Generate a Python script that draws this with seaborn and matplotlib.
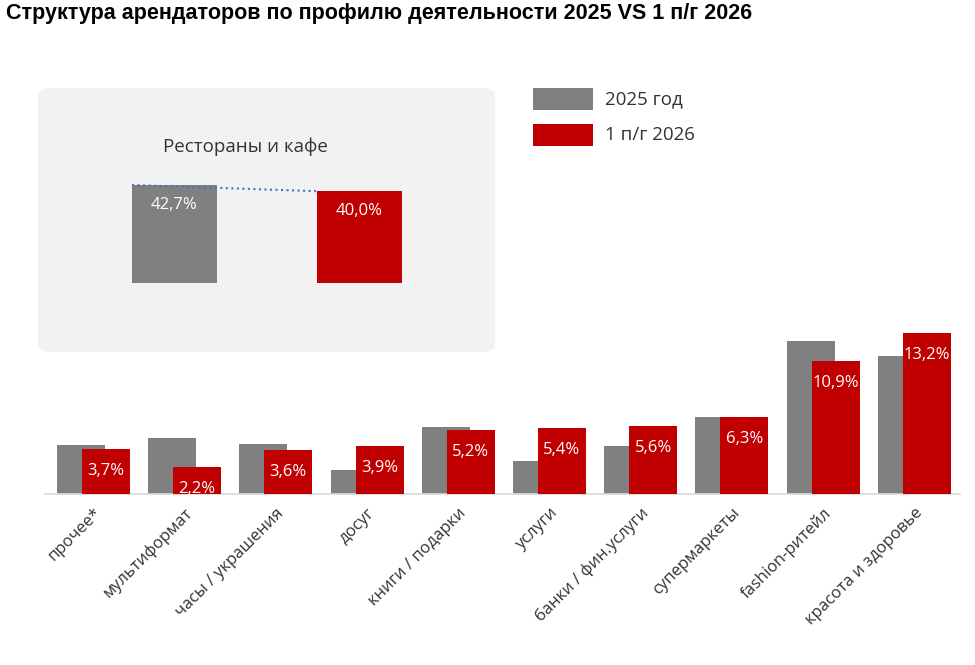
import matplotlib
matplotlib.use("Agg")
import matplotlib.pyplot as plt
from matplotlib.patches import FancyBboxPatch, Rectangle
import seaborn as sns
import pandas as pd

categories = ["прочее*", "мультиформат", "часы / украшения", "досуг", "книги / подарки",
              "услуги", "банки / фин.услуги", "супермаркеты", "fashion-ритейл", "красота и здоровье"]
vals_2025 = [4.0, 4.6, 4.1, 2.0, 5.5, 2.7, 3.9, 6.3, 12.5, 11.3]
vals_2026 = [3.7, 2.2, 3.6, 3.9, 5.2, 5.4, 5.6, 6.3, 10.9, 13.2]
labels_2026 = ["3,7%", "2,2%", "3,6%", "3,9%", "5,2%", "5,4%", "5,6%", "6,3%", "10,9%", "13,2%"]

inset_names = ["2025 год", "1 п/г 2026"]
inset_vals = [42.7, 40.0]
inset_labels = ["42,7%", "40,0%"]

GRAY = "#808080"
RED = "#C00000"
W, H = 975, 665

sns.set_theme(style="white")
plt.rcParams['font.family'] = ['Open Sans', 'DejaVu Sans']

fig = plt.figure(figsize=(9.75, 6.65), dpi=100)

def px(x0, y_top, x1, y_bot):
    return [x0 / W, 1 - y_bot / H, (x1 - x0) / W, (y_bot - y_top) / H]

# inset box (behind everything)
box = FancyBboxPatch((38 / W, 1 - 352 / H), (495 - 38) / W, (352 - 88) / H,
                     boxstyle="round,pad=0,rounding_size=0.012",
                     transform=fig.transFigure, facecolor="#f2f2f2",
                     edgecolor="none", zorder=-5)
fig.patches.append(box)

# main chart
ax = fig.add_axes(px(45, 80, 960, 494))
df = pd.DataFrame({"cat": categories, "a": vals_2025, "b": vals_2026})
bw = 48 / 91.2
off = 12.5 / 91.2
sns.barplot(data=df, x="cat", y="a", color=GRAY, width=bw, saturation=1, linewidth=0, ax=ax)
n = len(ax.patches)
sns.barplot(data=df, x="cat", y="b", color=RED, width=bw, saturation=1, linewidth=0, ax=ax)
for i, p in enumerate(ax.patches):
    p.set_x(p.get_x() + (-off if i < n else off))
    p.set_zorder(2 if i < n else 3)
scale = (494 - 80) / 33.9
for i, (v, lab) in enumerate(zip(vals_2026, labels_2026)):
    ax.text(i + off, v - 22 / scale, lab, ha="center", va="center",
            color="white", fontsize=12, zorder=5)
ax.set_xlim(-0.53, 9.5)
ax.set_ylim(0, 33.9)
ax.set_xlabel("")
ax.set_ylabel("")
ax.set_yticks([])
ax.set_xticks(range(len(categories)))
ax.set_xticklabels(categories, rotation=45, ha="right", rotation_mode="anchor",
                   fontsize=12, color="#333333")
ax.tick_params(axis="x", length=0, pad=8)
for s in ["top", "right", "left"]:
    ax.spines[s].set_visible(False)
ax.spines["bottom"].set_color("#d9d9d9")
ax.patch.set_alpha(0)

# inset chart
iax = fig.add_axes(px(100, 140, 435, 283))
idf = pd.DataFrame({"n": inset_names, "v": inset_vals})
sns.barplot(data=idf, x="n", y="v", hue="n", palette=[GRAY, RED], width=85 / 185,
            saturation=1, linewidth=0, legend=False, ax=iax)
iax.set_xlim(-74.5 / 185, 1 + 75.5 / 185)
iax.set_ylim(0, 143 / 2.295)
iax.axis("off")
iw = 85 / 185
iax.plot([0 - iw / 2, 1 - iw / 2], inset_vals, ls=":", color="#4472C4", lw=1.5, zorder=5)
for i, (v, lab) in enumerate(zip(inset_vals, inset_labels)):
    iax.text(i, v - 20 / 2.295, lab, ha="center", va="center", color="white", fontsize=12)
fig.text(245 / W, 1 - 147 / H, "Рестораны и кафе", ha="center", va="center",
         fontsize=13.5, color="#333333")

# legend
for y0, c, t in [(88, GRAY, "2025 год"), (124, RED, "1 п/г 2026")]:
    fig.patches.append(Rectangle((533 / W, 1 - (y0 + 22) / H), 60 / W, 22 / H,
                                 transform=fig.transFigure, facecolor=c, edgecolor="none"))
    fig.text(605 / W, 1 - (y0 + 11) / H, t, ha="left", va="center", fontsize=13.5, color="#333333")

fig.text(6 / W, 1 - 14 / H, "Структура арендаторов по профилю деятельности 2025 VS 1 п/г 2026",
         ha="left", va="center", fontsize=15.5, fontweight="bold",
         family=["Liberation Sans", "DejaVu Sans"], color="black")

fig.savefig("out.png", dpi=100)
